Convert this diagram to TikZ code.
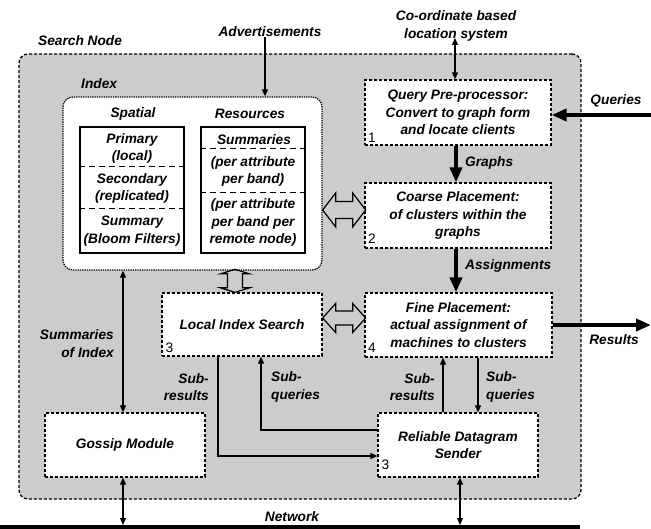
\documentclass[tikz,border=0pt]{standalone}
\usepackage{fontspec}
\setmainfont{Liberation Sans}
\usetikzlibrary{arrows.meta,calc}
\definecolor{bg}{HTML}{CCCCCC}
\begin{document}
\begin{tikzpicture}[x=1pt,y=-1pt,
  lbl/.style={font=\fontsize{13.7}{17.5}\selectfont\bfseries\itshape, inner sep=0pt, align=center},
  num/.style={font=\fontsize{13.7}{16}\selectfont, inner sep=0pt, anchor=south west},
  box/.style={draw, dash pattern=on 3pt off 2pt, line width=1.3pt, fill=white, inner sep=0pt,
    font=\fontsize{13.7}{17.5}\selectfont\bfseries\itshape, align=center},
  tbl/.style={draw, line width=1.4pt, inner sep=0pt, minimum width=104pt, minimum height=126pt},
  tdash/.style={line width=1.4pt, dash pattern=on 6pt off 4pt},
  arr/.style={-{Triangle[length=7pt,width=6pt]}, line width=1.2pt},
  darr/.style={{Triangle[length=7pt,width=6pt]}-{Triangle[length=7pt,width=6pt]}, line width=1.2pt},
  tarr/.style={-{Triangle[length=15pt,width=12pt]}, line width=4pt},
  hol/.style={draw, line width=1.2pt, line join=miter}
]
\useasboundingbox (0,0) rectangle (651,529);

% outer search node
\node[draw, dash pattern=on 3pt off 2pt, line width=1.3pt, fill=bg, rounded corners=9pt,
  minimum width=562pt, minimum height=445pt, inner sep=0pt] (outer) at (300,276.5) {};
\node[lbl, anchor=west] (sn) at (38,41) {Search Node};

% index
\node[draw, densely dotted, line width=1.3pt, fill=white, rounded corners=10pt,
  minimum width=259pt, minimum height=173pt, inner sep=0pt] (idx) at (192.5,183.5) {};
\node[lbl, anchor=west] (il) at (81,84) {Index};
\node[lbl] (spl) at (133,114) {Spatial};
\node[lbl] (rsl) at (250,114) {Resources};

\node[tbl] (sp) at (132,190) {};
\node[tbl] (rs) at (253,190) {};
\draw[tdash] ($(sp.north west)+(0,40)$) -- ($(sp.north east)+(0,40)$);
\draw[tdash] ($(sp.north west)+(0,82)$) -- ($(sp.north east)+(0,82)$);
\draw[tdash] ($(rs.north west)+(0,22)$) -- ($(rs.north east)+(0,22)$);
\draw[tdash] ($(rs.north west)+(0,66)$) -- ($(rs.north east)+(0,66)$);
\node[lbl] (sp1) at (132,148.5) {Primary\\(local)};
\node[lbl] (sp2) at (132,188.5) {Secondary\\(replicated)};
\node[lbl] (sp3) at (132,231) {Summary\\(Bloom Filters)};
\node[lbl] (rs1) at (254,139.5) {Summaries};
\node[lbl] (rs2) at (253,171.5) {(per attribute\\per band)};
\node[lbl] (rs3) at (253,222.5) {(per attribute\\per band per\\remote node)};

% boxes
\node[box, minimum width=186pt, minimum height=65pt] (q) at (458,112.5)
  {Query Pre-processor:\\Convert to graph form\\and locate clients};
\node[box, minimum width=186pt, minimum height=65pt] (cp) at (458,215.5)
  {Coarse Placement:\\of clusters within the\\graphs};
\node[box, minimum width=187pt, minimum height=64pt] (fp) at (458.5,325)
  {Fine Placement:\\actual assignment of\\machines to clusters};
\node[box, minimum width=160pt, minimum height=63pt] (lis) at (242,324.5)
  {Local Index Search};
\node[box, minimum width=160pt, minimum height=64pt] (gos) at (125,445)
  {Gossip Module};
\node[box, minimum width=160pt, minimum height=64pt] (rds) at (458,445)
  {Reliable Datagram\\Sender};

\node[num] (n1) at ([xshift=3.5pt,yshift=3pt]q.south west) {1};
\node[num] (n2) at ([xshift=3.5pt,yshift=4.5pt]cp.south west) {2};
\node[num] (n4) at ([xshift=3.5pt,yshift=4.5pt]fp.south west) {4};
\node[num] (n3a) at ([xshift=4pt,yshift=4pt]lis.south west) {3};
\node[num] (n3b) at ([xshift=4pt,yshift=8pt]rds.south west) {3};

% labels
\node[lbl] (adv) at (270,32) {Advertisements};
\node[lbl] (coord) at (456,26) {Co-ordinate based\\location system};
\node[lbl] (qry) at (616,101) {Queries};
\node[lbl, anchor=west] (gr) at (465,162.5) {Graphs};
\node[lbl, anchor=west] (asg) at (465,265.5) {Assignments};
\node[lbl] (res) at (614,339.5) {Results};
\node[lbl, align=right, anchor=east] (soi) at (114,343.5) {Summaries\\of Index};
\node[lbl, align=right, anchor=east] (sr1) at (209,387) {Sub-\\results};
\node[lbl, align=left, anchor=west] (sq1) at (271,387) {Sub-\\queries};
\node[lbl, align=right, anchor=east] (sr2) at (435,387) {Sub-\\results};
\node[lbl, align=left, anchor=west] (sq2) at (486,387) {Sub-\\queries};
\node[lbl] (net) at (292,516.5) {Network};

% coordinates
\coordinate (ctop) at (455,38);
\coordinate (qsrc) at (651,115);
\coordinate (rdst) at (651,325);
\coordinate (nl) at (0,527);
\coordinate (nr) at (580,527);
\coordinate (nt) at (0,525);

% connectors
\draw[arr] ([xshift=-5pt]adv.south) -- ([xshift=-5pt]adv.south |- idx.north);
\draw[darr] (ctop) -- (ctop |- q.north);
\draw[tarr] (qsrc) -- (q.east |- qsrc);
\draw[tarr] ([xshift=-2pt]q.south) -- ([xshift=-2pt]cp.north);
\draw[tarr] ([xshift=-2pt]cp.south) -- ([xshift=-2.5pt]fp.north);
\draw[tarr] (fp.east) -- (rdst);
\draw[darr] ([xshift=-2pt]gos.north) -- ([xshift=-2pt]gos.north |- idx.south);
\draw[arr] ([xshift=-24pt]lis.south) |- ([yshift=-11pt]rds.west);
\draw[arr] ([yshift=15pt]rds.west) -| ([xshift=19pt]lis.south);
\draw[arr] ([xshift=-15pt]rds.north) -- ([xshift=-15pt]rds.north |- fp.south);
\draw[arr] ([xshift=20pt]rds.north |- fp.south) -- ([xshift=20pt]rds.north);
\draw[line width=4pt] (nl) -- (nr);
\draw[darr] ([xshift=-2pt]gos.south) -- ([xshift=-2pt]gos.south |- nt);
\draw[darr] ([xshift=2pt]rds.south) -- ([xshift=2pt]rds.south |- nt);

% hollow double arrows
\draw[hol] ($(idx.east)+(0,26.5)$) -- ++(13,-17) -- ++(0,8.5) -- ++(17,0) -- ++(0,-8.5)
  -- ++(13,17) -- ++(-13,17) -- ++(0,-8.5) -- ++(-17,0) -- ++(0,8.5) -- cycle;
\draw[hol] ($(lis.east)+(0,-6.5)$) -- ++(13,-14.5) -- ++(0,7.5) -- ++(17,0) -- ++(0,-7.5)
  -- ++(13,14.5) -- ++(-13,14.5) -- ++(0,-7.5) -- ++(-17,0) -- ++(0,7.5) -- cycle;
\draw[hol] ($(lis.north)+(-7,0)$) -- ++(-14.5,-4.5) -- ++(7,0) -- ++(0,-14) -- ++(-7,0)
  -- ++(14.5,-4.5) -- ++(14.5,4.5) -- ++(-7,0) -- ++(0,14) -- ++(7,0) -- cycle;
\end{tikzpicture}
\end{document}
